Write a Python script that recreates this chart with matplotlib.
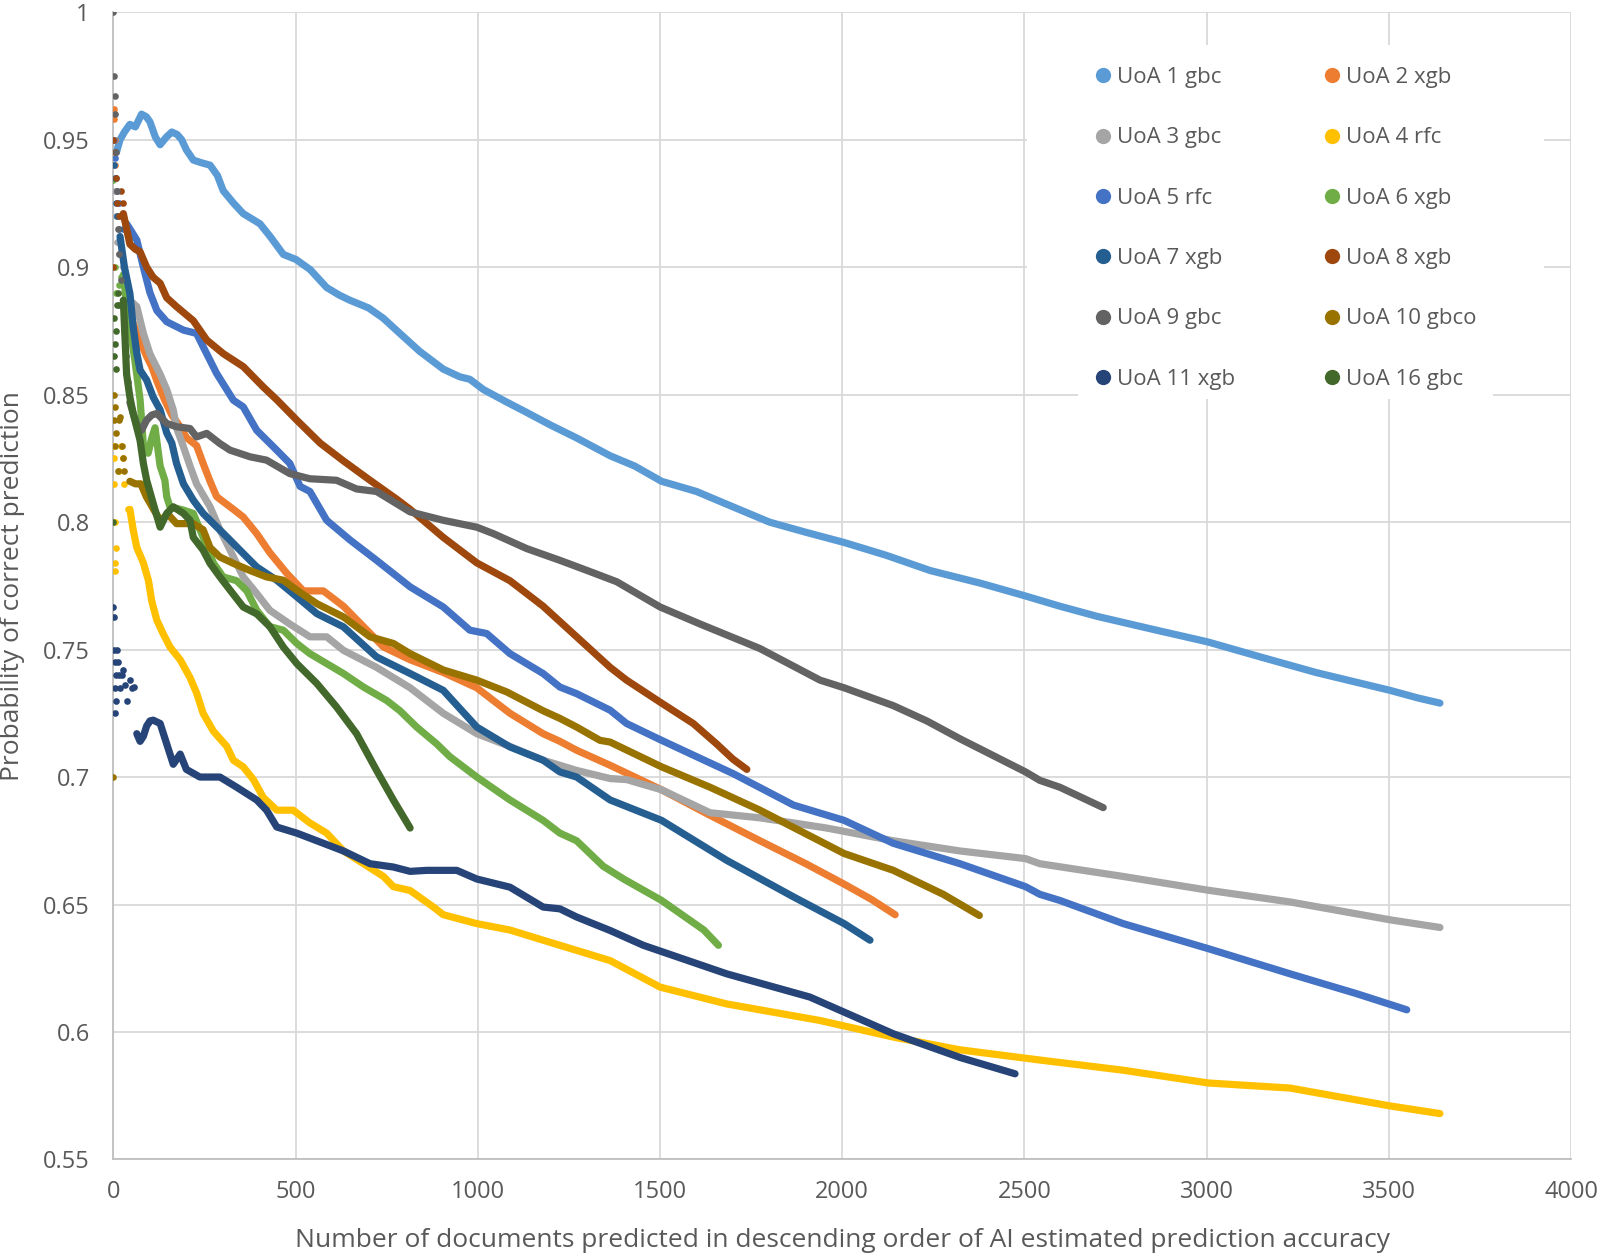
import matplotlib
matplotlib.use("Agg")
import matplotlib.pyplot as plt
from matplotlib.lines import Line2D
from matplotlib.patches import Rectangle

# series labels and colours (Excel office palette)
labels = ["UoA 1 gbc", "UoA 2 xgb", "UoA 3 gbc", "UoA 4 rfc", "UoA 5 rfc", "UoA 6 xgb",
          "UoA 7 xgb", "UoA 8 xgb", "UoA 9 gbc", "UoA 10 gbco", "UoA 11 xgb", "UoA 16 gbc"]
colors = ["#5B9BD5", "#ED7D31", "#A5A5A5", "#FFC000", "#4472C4", "#70AD47",
          "#255E91", "#9E480E", "#636363", "#997300", "#264478", "#43682B"]

# scattered start dots and the dense trace
uoa1_dx = []
uoa1_dy = []
uoa1_x = [8, 18, 30, 45, 60, 77, 90, 100, 115, 128, 145, 160, 175, 187, 200, 219, 240, 265, 285, 301,
          330, 356, 402, 430, 466, 501, 540, 585, 620, 649, 700, 740, 786, 840, 905, 950, 978, 1015,
          1080, 1134, 1200, 1271, 1363, 1430, 1504, 1600, 1683, 1800, 1900, 2005, 2120, 2241, 2380,
          2503, 2597, 2700, 2850, 3003, 3150, 3300, 3503, 3580, 3640]
uoa1_y = [0.945, 0.950, 0.953, 0.956, 0.955, 0.960, 0.959, 0.957, 0.951, 0.948, 0.951, 0.953, 0.952,
          0.950, 0.946, 0.942, 0.941, 0.940, 0.936, 0.930, 0.925, 0.921, 0.917, 0.912, 0.905, 0.903,
          0.899, 0.892, 0.889, 0.887, 0.884, 0.880, 0.874, 0.867, 0.860, 0.857, 0.856, 0.852, 0.847,
          0.843, 0.838, 0.833, 0.826, 0.822, 0.816, 0.812, 0.807, 0.800, 0.796, 0.792, 0.787, 0.781,
          0.776, 0.771, 0.767, 0.763, 0.758, 0.753, 0.747, 0.741, 0.734, 0.731, 0.729]

uoa2_dx = [1, 2, 3, 5, 8, 12, 20, 30, 40]
uoa2_dy = [0.962, 0.958, 0.950, 0.940, 0.930, 0.920, 0.905, 0.890, 0.882]
uoa2_x = [54, 73, 91, 105, 120, 140, 160, 180, 201, 228, 246, 265, 283, 292, 329, 356, 393, 429, 475,
          521, 576, 631, 686, 741, 814, 905, 997, 1088, 1179, 1225, 1271, 1363, 1504, 1637, 1774,
          1900, 2005, 2080, 2145]
uoa2_y = [0.878, 0.871, 0.865, 0.861, 0.855, 0.848, 0.842, 0.838, 0.833, 0.830, 0.823, 0.816, 0.810,
          0.809, 0.805, 0.802, 0.7955, 0.788, 0.780, 0.773, 0.773, 0.767, 0.759, 0.751, 0.746, 0.741,
          0.735, 0.725, 0.717, 0.714, 0.7105, 0.7046, 0.695, 0.685, 0.675, 0.666, 0.658, 0.652, 0.646]

uoa3_dx = [2, 4, 6, 10, 15, 25, 35]
uoa3_dy = [0.940, 0.930, 0.920, 0.910, 0.905, 0.900, 0.893]
uoa3_x = [45, 64, 82, 100, 128, 146, 164, 173, 192, 210, 228, 265, 292, 320, 356, 393, 429, 484, 539,
          585, 631, 722, 814, 905, 951, 997, 1088, 1179, 1271, 1363, 1408, 1504, 1637, 1774, 1957,
          2140, 2323, 2503, 2542, 2771, 3004, 3229, 3503, 3640]
uoa3_y = [0.887, 0.8845, 0.874, 0.866, 0.858, 0.852, 0.844, 0.837, 0.8295, 0.822, 0.815, 0.806,
          0.797, 0.789, 0.7785, 0.772, 0.7654, 0.760, 0.755, 0.755, 0.7497, 0.743, 0.735, 0.725,
          0.721, 0.717, 0.712, 0.7066, 0.7026, 0.6994, 0.699, 0.695, 0.686, 0.684, 0.680, 0.675,
          0.671, 0.668, 0.666, 0.661, 0.6556, 0.651, 0.644, 0.641]

uoa4_dx = [0, 1, 2, 3, 4, 5, 8, 15, 20, 25, 30, 40]
uoa4_dy = [0.830, 0.815, 0.825, 0.800, 0.784, 0.781, 0.790, 0.820, 0.830, 0.825, 0.815, 0.805]
uoa4_x = [45, 54, 64, 82, 96, 105, 119, 137, 155, 183, 210, 228, 246, 274, 311, 329, 356, 384, 411,
          448, 493, 539, 585, 631, 686, 741, 768, 814, 878, 905, 997, 1088, 1179, 1271, 1363, 1500,
          1683, 1939, 2140, 2323, 2542, 2771, 3004, 3229, 3503, 3640]
uoa4_y = [0.805, 0.797, 0.790, 0.784, 0.777, 0.769, 0.7615, 0.756, 0.751, 0.746, 0.739, 0.733, 0.725,
          0.718, 0.712, 0.7066, 0.704, 0.699, 0.692, 0.687, 0.687, 0.682, 0.678, 0.671, 0.666, 0.661,
          0.657, 0.6555, 0.649, 0.646, 0.6425, 0.640, 0.636, 0.632, 0.628, 0.6176, 0.611, 0.6045,
          0.598, 0.593, 0.589, 0.585, 0.580, 0.578, 0.571, 0.568]

uoa5_dx = [1, 3, 6, 10, 15, 20, 27]
uoa5_dy = [0.950, 0.943, 0.935, 0.930, 0.925, 0.920, 0.915]
uoa5_x = [36, 45, 64, 82, 100, 119, 146, 192, 228, 246, 283, 329, 356, 393, 439, 484, 512, 539, 585,
          649, 722, 814, 905, 978, 1024, 1088, 1179, 1225, 1271, 1363, 1408, 1504, 1600, 1701, 1866,
          2005, 2140, 2323, 2503, 2542, 2597, 2771, 3004, 3229, 3412, 3549]
uoa5_y = [0.917, 0.915, 0.9106, 0.900, 0.890, 0.883, 0.8786, 0.8753, 0.874, 0.8688, 0.8583, 0.8478,
          0.8452, 0.836, 0.8295, 0.823, 0.814, 0.812, 0.8007, 0.793, 0.785, 0.7746, 0.7667, 0.7576,
          0.7563, 0.7484, 0.7406, 0.7353, 0.7327, 0.7262, 0.721, 0.7144, 0.708, 0.7013, 0.689, 0.683,
          0.674, 0.666, 0.657, 0.654, 0.6516, 0.6425, 0.6327, 0.6228, 0.615, 0.6087]

uoa6_dx = [0, 3, 8, 15, 20]
uoa6_dy = [0.934, 0.900, 0.890, 0.893, 0.896]
uoa6_x = [27, 40, 50, 60, 73, 82, 95, 105, 114, 128, 141, 146, 155, 192, 219, 246, 274, 301, 338,
          366, 393, 429, 466, 503, 539, 585, 631, 686, 750, 786, 832, 887, 923, 997, 1088, 1179,
          1225, 1271, 1344, 1400, 1504, 1560, 1620, 1660]
uoa6_y = [0.897, 0.880, 0.872, 0.862, 0.848, 0.830, 0.827, 0.833, 0.837, 0.822, 0.8164, 0.810,
          0.806, 0.8047, 0.8034, 0.794, 0.784, 0.7785, 0.777, 0.773, 0.7654, 0.759, 0.7576, 0.7524,
          0.7484, 0.7445, 0.7406, 0.7353, 0.730, 0.726, 0.7196, 0.713, 0.708, 0.700, 0.691, 0.683,
          0.678, 0.675, 0.665, 0.660, 0.6516, 0.646, 0.640, 0.634]

uoa7_dx = [2, 4, 6, 10, 14]
uoa7_dy = [0.940, 0.935, 0.925, 0.920, 0.915]
uoa7_x = [18, 30, 45, 54, 64, 73, 91, 109, 128, 146, 160, 173, 192, 219, 246, 274, 311, 356, 393,
          448, 503, 558, 631, 722, 814, 905, 997, 1088, 1179, 1225, 1271, 1363, 1504, 1683, 1866,
          2005, 2076]
uoa7_y = [0.912, 0.900, 0.8897, 0.8766, 0.8662, 0.8596, 0.8557, 0.849, 0.844, 0.835, 0.831, 0.823,
          0.815, 0.8086, 0.8034, 0.7994, 0.7942, 0.7877, 0.7824, 0.7772, 0.7707, 0.7641, 0.7589,
          0.7471, 0.7406, 0.734, 0.7196, 0.7118, 0.7066, 0.702, 0.700, 0.691, 0.683, 0.6673, 0.653,
          0.6425, 0.636]

uoa8_dx = [0, 0, 3, 6, 10, 15, 20, 25]
uoa8_dy = [0.950, 0.900, 0.945, 0.935, 0.925, 0.920, 0.930, 0.925]
uoa8_x = [27, 45, 60, 73, 91, 109, 128, 146, 173, 219, 256, 302, 356, 411, 448, 503, 567, 631, 704,
          777, 814, 905, 997, 1088, 1179, 1271, 1363, 1408, 1504, 1591, 1655, 1700, 1738]
uoa8_y = [0.921, 0.909, 0.907, 0.906, 0.900, 0.896, 0.8937, 0.888, 0.8845, 0.879, 0.8714, 0.866,
          0.861, 0.853, 0.848, 0.840, 0.831, 0.824, 0.8164, 0.809, 0.805, 0.794, 0.784, 0.777, 0.767,
          0.755, 0.743, 0.738, 0.729, 0.721, 0.713, 0.707, 0.703]

uoa9_dx = [0, 2, 3, 5, 7, 10, 13, 16, 20, 25, 30, 35, 40]
uoa9_dy = [1.000, 0.975, 0.967, 0.960, 0.945, 0.930, 0.915, 0.905, 0.895, 0.885, 0.875, 0.865, 0.855]
uoa9_x = [45, 54, 65, 77, 91, 105, 119, 146, 173, 210, 228, 256, 292, 320, 375, 420, 484, 539, 612,
          667, 722, 814, 905, 997, 1042, 1134, 1225, 1300, 1381, 1500, 1610, 1774, 1939, 2005, 2140,
          2232, 2323, 2503, 2542, 2597, 2716]
uoa9_y = [0.847, 0.8426, 0.838, 0.836, 0.840, 0.842, 0.8426, 0.8387, 0.8374, 0.8367, 0.8334, 0.8348,
          0.8308, 0.8282, 0.8256, 0.8243, 0.819, 0.817, 0.8164, 0.813, 0.812, 0.804, 0.8007, 0.798,
          0.7955, 0.7896, 0.785, 0.781, 0.7766, 0.7667, 0.760, 0.7504, 0.738, 0.735, 0.728, 0.722,
          0.715, 0.702, 0.6987, 0.696, 0.688]

uoa10_dx = [0, 1, 2, 3, 5, 8, 12, 15, 18, 22, 26, 30]
uoa10_dy = [0.700, 0.850, 0.840, 0.830, 0.845, 0.835, 0.820, 0.840, 0.8413, 0.830, 0.825, 0.820]
uoa10_x = [45, 60, 75, 90, 110, 128, 150, 173, 219, 246, 265, 292, 329, 375, 420, 466, 503, 558, 631,
           704, 768, 814, 905, 997, 1079, 1179, 1225, 1271, 1335, 1363, 1504, 1637, 1774, 2005, 2140,
           2277, 2376]
uoa10_y = [0.816, 0.815, 0.815, 0.810, 0.805, 0.8007, 0.803, 0.7994, 0.7994, 0.797, 0.790, 0.7863,
           0.7838, 0.781, 0.7785, 0.7772, 0.7733, 0.768, 0.7628, 0.755, 0.7524, 0.7484, 0.742, 0.738,
           0.7334, 0.726, 0.723, 0.7196, 0.7144, 0.7137, 0.704, 0.696, 0.687, 0.670, 0.6634, 0.654,
           0.6457]

uoa11_dx = [0, 1, 2, 3, 4, 5, 6, 8, 10, 12, 15, 18, 22, 27, 32, 38, 45, 50, 55]
uoa11_dy = [0.7667, 0.7628, 0.750, 0.745, 0.735, 0.725, 0.730, 0.740, 0.750, 0.745, 0.740, 0.735,
            0.740, 0.742, 0.736, 0.730, 0.738, 0.735, 0.7353]
uoa11_x = [64, 73, 82, 91, 100, 109, 128, 146, 164, 183, 200, 237, 292, 338, 393, 420, 448, 503, 558,
           631, 704, 768, 814, 860, 942, 997, 1088, 1179, 1225, 1271, 1363, 1454, 1683, 1911, 2140,
           2323, 2474]
uoa11_y = [0.717, 0.714, 0.716, 0.720, 0.722, 0.7223, 0.721, 0.713, 0.705, 0.709, 0.703, 0.700,
           0.700, 0.696, 0.691, 0.687, 0.6804, 0.678, 0.675, 0.671, 0.666, 0.6647, 0.663, 0.6634,
           0.6634, 0.660, 0.6568, 0.649, 0.6483, 0.6451, 0.6398, 0.634, 0.6228, 0.6137, 0.5993,
           0.590, 0.5836]

uoa16_dx = [0, 1, 2, 4, 6, 8, 10, 13, 16]
uoa16_dy = [0.800, 0.865, 0.880, 0.870, 0.860, 0.875, 0.885, 0.890, 0.885]
uoa16_x = [27, 36, 45, 54, 73, 82, 91, 109, 128, 146, 164, 192, 210, 219, 246, 265, 292, 320, 356,
           393, 429, 466, 503, 558, 612, 667, 722, 768, 814]
uoa16_y = [0.887, 0.858, 0.849, 0.8426, 0.832, 0.823, 0.8164, 0.8073, 0.798, 0.8034, 0.806, 0.8034,
           0.8007, 0.794, 0.789, 0.7838, 0.7785, 0.7733, 0.7667, 0.764, 0.759, 0.751, 0.7445, 0.7367,
           0.7275, 0.717, 0.7026, 0.691, 0.680]

xticks = [0, 500, 1000, 1500, 2000, 2500, 3000, 3500, 4000]
yticks = [0.55, 0.6, 0.65, 0.7, 0.75, 0.8, 0.85, 0.9, 0.95, 1]
ytick_labels = ["0.55", "0.6", "0.65", "0.7", "0.75", "0.8", "0.85", "0.9", "0.95", "1"]

series = [
    (uoa1_dx, uoa1_dy, uoa1_x, uoa1_y), (uoa2_dx, uoa2_dy, uoa2_x, uoa2_y),
    (uoa3_dx, uoa3_dy, uoa3_x, uoa3_y), (uoa4_dx, uoa4_dy, uoa4_x, uoa4_y),
    (uoa5_dx, uoa5_dy, uoa5_x, uoa5_y), (uoa6_dx, uoa6_dy, uoa6_x, uoa6_y),
    (uoa7_dx, uoa7_dy, uoa7_x, uoa7_y), (uoa8_dx, uoa8_dy, uoa8_x, uoa8_y),
    (uoa9_dx, uoa9_dy, uoa9_x, uoa9_y), (uoa10_dx, uoa10_dy, uoa10_x, uoa10_y),
    (uoa11_dx, uoa11_dy, uoa11_x, uoa11_y), (uoa16_dx, uoa16_dy, uoa16_x, uoa16_y),
]

plt.rcParams['font.family'] = ['Open Sans', 'DejaVu Sans']
txt = "#595959"

fig = plt.figure(figsize=(16.03, 12.57), dpi=100)
ax = fig.add_axes([0.0708, 0.0776, 0.9093, 0.9127])

for i, (dx, dy, x, y) in enumerate(series):
    c = colors[i]
    ax.plot(x, y, color=c, lw=5.2, solid_capstyle='round', solid_joinstyle='round', zorder=3 + i)
    if dx:
        ax.plot(dx, dy, 'o', color=c, ms=4.8, mec='none', zorder=3 + i)

ax.set_xlim(0, 4000)
ax.set_ylim(0.55, 1.0)
ax.set_xticks(xticks)
ax.set_xticklabels([str(t) for t in xticks])
ax.set_yticks(yticks)
ax.set_yticklabels(ytick_labels)
ax.grid(True, color="#d9d9d9", lw=1.3, zorder=0)
ax.set_axisbelow(True)
for s in ["top", "right"]:
    ax.spines[s].set_visible(False)
for s in ["left", "bottom"]:
    ax.spines[s].set_color("#bfbfbf")
    ax.spines[s].set_linewidth(1.3)
ax.tick_params(length=0, labelsize=17, labelcolor=txt)
ax.tick_params(axis='y', pad=17)
ax.tick_params(axis='x', pad=15)
ax.set_xlabel("Number of documents predicted in descending order of AI estimated prediction accuracy",
              fontsize=19, color=txt, labelpad=17)
ax.set_ylabel("Probability of correct prediction", fontsize=19, color=txt, labelpad=13)

# white legend area hiding the gridlines
fig.add_artist(Rectangle((1027 / 1603, 1 - 385 / 1257), 517 / 1603, 340 / 1257,
                         transform=fig.transFigure, facecolor="white", edgecolor="none", zorder=2))
fig.add_artist(Rectangle((1078 / 1603, 1 - 399 / 1257), 415 / 1603, 20 / 1257,
                         transform=fig.transFigure, facecolor="white", edgecolor="none", zorder=2))

handles = [Line2D([], [], ls='', marker='o', ms=11, color=c, mec='none') for c in colors]
order = [0, 2, 4, 6, 8, 10, 1, 3, 5, 7, 9, 11]
leg = fig.legend([handles[k] for k in order], [labels[k] for k in order], ncol=2,
                 loc='upper left', bbox_to_anchor=(1095 / 1603, 1 - 67 / 1257),
                 frameon=False, fontsize=16, borderpad=0, handlelength=0.7, handletextpad=0.3,
                 columnspacing=4.0, labelspacing=1.77, borderaxespad=0)
for t in leg.get_texts():
    t.set_color(txt)
leg.set_zorder(5)

fig.savefig("out.png", dpi=100)
